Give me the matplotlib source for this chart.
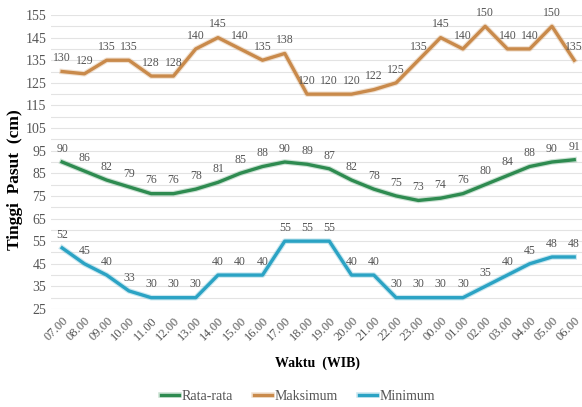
import matplotlib
matplotlib.use("Agg")
import matplotlib.pyplot as plt
import matplotlib.patheffects as pe
import numpy as np

times = ["07.00","08.00","09.00","10.00","11.00","12.00","13.00","14.00","15.00","16.00",
         "17.00","18.00","19.00","20.00","21.00","22.00","23.00","00.00","01.00","02.00",
         "03.00","04.00","05.00","06.00"]
rata = [90,86,82,79,76,76,78,81,85,88,90,89,87,82,78,75,73,74,76,80,84,88,90,91]
maks = [130,129,135,135,128,128,140,145,140,135,138,120,120,120,122,125,135,145,140,150,140,140,150,135]
mini = [52,45,40,33,30,30,30,40,40,40,55,55,55,40,40,30,30,30,30,35,40,45,48,48]
yticks = list(range(25, 156, 10))

plt.rcParams['font.family'] = ['Liberation Serif', 'DejaVu Serif']

fig = plt.figure(figsize=(5.82, 4.07), dpi=100)
ax = fig.add_axes([51/582, 98/407, 1 - 51/582, 294/407])

x = np.arange(len(times))
series = [("Rata-rata", rata, "#2E8B50"), ("Maksimum", maks, "#C98A4B"), ("Minimum", mini, "#2BA3C4")]
for name, vals, col in series:
    ax.plot(x, vals, color=col, lw=2.4, label=name, solid_joinstyle='round',
            path_effects=[pe.Stroke(linewidth=4.0, foreground=col, alpha=0.25), pe.Normal()], zorder=3)
    for xi, v in zip(x, vals):
        ax.annotate(str(v), (xi, v), xytext=(0, 9.5), textcoords='offset points',
                    ha='center', va='center', fontsize=8.5, color='#555555')

ax.set_ylim(25, 155)
ax.set_xlim(-0.5, 23.35)
ax.set_yticks(yticks)
ax.set_yticks(range(30, 155, 10), minor=True)
ax.tick_params(axis='y', which='both', length=0, labelsize=10, labelcolor='#555555')
ax.set_xticks(x)
ax.set_xticklabels(times, rotation=45, ha='right', rotation_mode='anchor', fontsize=9, color='#555555')
ax.tick_params(axis='x', length=0, pad=4)
ax.grid(axis='y', which='both', color='#E3E3E3', lw=0.8)
ax.set_axisbelow(True)
for s in ax.spines.values():
    s.set_visible(False)

fig.text(15/582, 1 - 180/407, "Tinggi  Pasut  (cm)", rotation=90, ha='center', va='center',
         fontsize=12.5, fontweight='bold')
fig.text(318/582, 1 - 363/407, "Waktu  (WIB)", ha='center', va='center', fontsize=10, fontweight='bold')

leg = fig.legend(loc='center', bbox_to_anchor=(298/582, 1 - 396/407), ncol=3, frameon=False,
                 fontsize=10, handlelength=1.3, handletextpad=0.2, columnspacing=1.5,
                 labelcolor='#555555')

fig.savefig("out.png", dpi=100)
